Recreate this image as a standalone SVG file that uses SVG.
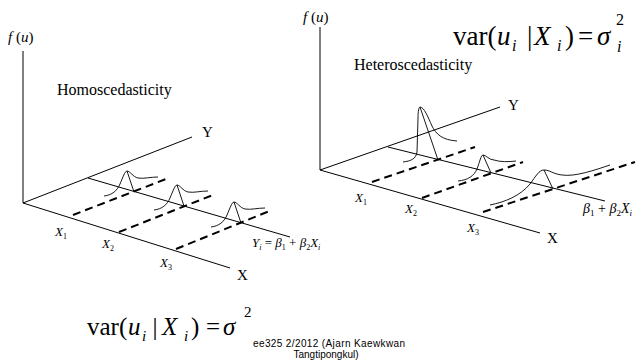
<svg xmlns="http://www.w3.org/2000/svg" width="639" height="360" viewBox="0 0 639 360">
<style>
.ax{stroke:#000;stroke-width:1;fill:none}
.ds{stroke:#000;stroke-width:2;fill:none;stroke-dasharray:8 5}
.cv{stroke:#000;stroke-width:0.9;fill:none}
text{font-family:"Liberation Serif","Times New Roman",serif;fill:#000}
.i{font-style:italic}
text.f{font-family:"Liberation Sans",Arial,sans-serif;font-size:10px}
</style>
<rect width="639" height="360" fill="#fff"/>
<defs>
<path id="bellL" d="M-30,4 C-22,3 -17,-1 -14,-8 C-11,-15 -9,-21 -7,-21 C-4,-21 -1,-15 4,-14 C10,-13 16,-15 24,-15 M-7,-21 L0,0"/>
</defs>

<g id="connectors">
<line class="ax" x1="23" y1="51" x2="23" y2="203"/>
<line class="ax" x1="23" y1="203" x2="192" y2="137"/>
<line class="ax" x1="23" y1="203" x2="230" y2="268"/>
<line class="ax" x1="88" y1="178" x2="290" y2="237"/>
<line class="ds" x1="73" y1="215" x2="166" y2="179"/>
<line class="ds" x1="119" y1="232" x2="213" y2="195"/>
<line class="ds" x1="176" y1="249" x2="272" y2="210"/>
<line class="ax" x1="320" y1="27" x2="320" y2="170"/>
<line class="ax" x1="320" y1="170" x2="500" y2="107"/>
<line class="ax" x1="320" y1="170" x2="540" y2="233"/>
<line class="ax" x1="388" y1="147" x2="605" y2="201"/>
<line class="ds" x1="372" y1="182" x2="475" y2="147"/>
<line class="ds" x1="422" y1="198" x2="523" y2="162"/>
<line class="ds" x1="483" y1="212" x2="635" y2="162"/>
</g>

<g id="homo-curves">
<use href="#bellL" class="cv" transform="translate(134,192)"/>
<use href="#bellL" class="cv" transform="translate(184,206)"/>
<use href="#bellL" class="cv" transform="translate(241,223)"/>
</g>

<g id="hetero-curves">
<path class="cv" d="M403,162 C411,161 416,159 417,152 L418,118 C418,111 419,107 420,107 C424,107 428,117 432,126 C436,134 442,140 457,141 M420,107 L438,160"/>
<path class="cv" d="M458,181 C468,180 474,176 477,169 C480,161 481,155 483,155 C486,155 489,160 494,160 C500,162 508,162 516,161 M483,155 L491,173"/>
<path class="cv" d="M490,205 C505,202 520,196 530,184 C536,176 539,170 544,170 C550,170 553,174 562,175 C575,177 595,170 610,165 M544,170 L553,189"/>
</g>

<g id="left-labels">
<text x="8" y="42" font-size="15"><tspan class="i">f</tspan> (<tspan class="i">u</tspan>)</text>
<text x="57" y="95" font-size="16">Homoscedasticity</text>
<text x="202" y="137" font-size="15">Y</text>
<text x="237" y="280" font-size="15">X</text>
<text x="55" y="236" font-size="13" class="i">X<tspan font-size="8" dy="3" font-style="normal">1</tspan></text>
<text x="102" y="248" font-size="13" class="i">X<tspan font-size="8" dy="3" font-style="normal">2</tspan></text>
<text x="160" y="267" font-size="13" class="i">X<tspan font-size="8" dy="3" font-style="normal">3</tspan></text>
<text x="252" y="247" font-size="13" class="i">Y<tspan font-size="8" dy="3">i</tspan><tspan dy="-3" font-style="normal"> = </tspan>β<tspan font-size="8" dy="3" font-style="normal">1</tspan><tspan dy="-3" font-style="normal"> + </tspan>β<tspan font-size="8" dy="3" font-style="normal">2</tspan><tspan dy="-3">X</tspan><tspan font-size="8" dy="3">i</tspan></text>
</g>

<g id="right-labels">
<text x="303" y="22" font-size="15"><tspan class="i">f</tspan> (<tspan class="i">u</tspan>)</text>
<text x="354" y="70" font-size="16">Heteroscedasticity</text>
<text x="508" y="110" font-size="15">Y</text>
<text x="547" y="243" font-size="15">X</text>
<text x="355" y="202" font-size="13" class="i">X<tspan font-size="8" dy="3" font-style="normal">1</tspan></text>
<text x="405" y="213" font-size="13" class="i">X<tspan font-size="8" dy="3" font-style="normal">2</tspan></text>
<text x="467" y="232" font-size="13" class="i">X<tspan font-size="8" dy="3" font-style="normal">3</tspan></text>
<text x="583" y="213" font-size="14" class="i">β<tspan font-size="9" dy="3" font-style="normal">1</tspan><tspan dy="-3" font-style="normal"> + </tspan>β<tspan font-size="9" dy="3" font-style="normal">2</tspan><tspan dy="-3">X</tspan><tspan font-size="9" dy="3">i</tspan></text>
</g>

<g id="formula-top" font-size="27">
<text x="453" y="45">var(</text>
<text x="497" y="45" class="i">u</text>
<text x="512" y="51" font-size="16" class="i">i</text>
<text x="527" y="45">|</text>
<text x="534" y="45" class="i">X</text>
<text x="557" y="51" font-size="16" class="i">i</text>
<text x="565" y="45">)</text>
<text x="578" y="45">=</text>
<text x="597" y="45" class="i">σ</text>
<text x="616" y="25" font-size="16">2</text>
<text x="617" y="52" font-size="16" class="i">i</text>
</g>

<g id="formula-bottom" font-size="25">
<text x="87" y="335">var(</text>
<text x="128" y="335" class="i">u</text>
<text x="142" y="341" font-size="15" class="i">i</text>
<text x="152.5" y="335">|</text>
<text x="162" y="335" class="i">X</text>
<text x="184" y="341" font-size="15" class="i">i</text>
<text x="191" y="335">)</text>
<text x="206" y="335">=</text>
<text x="223" y="335" class="i">σ</text>
<text x="244" y="317" font-size="15">2</text>
</g>

<g id="footer">
<text class="f" x="253" y="347" textLength="152" lengthAdjust="spacing">ee325 2/2012 (Ajarn Kaewkwan</text>
<text class="f" x="326" y="358" text-anchor="middle">Tangtipongkul)</text>
</g>
</svg>
